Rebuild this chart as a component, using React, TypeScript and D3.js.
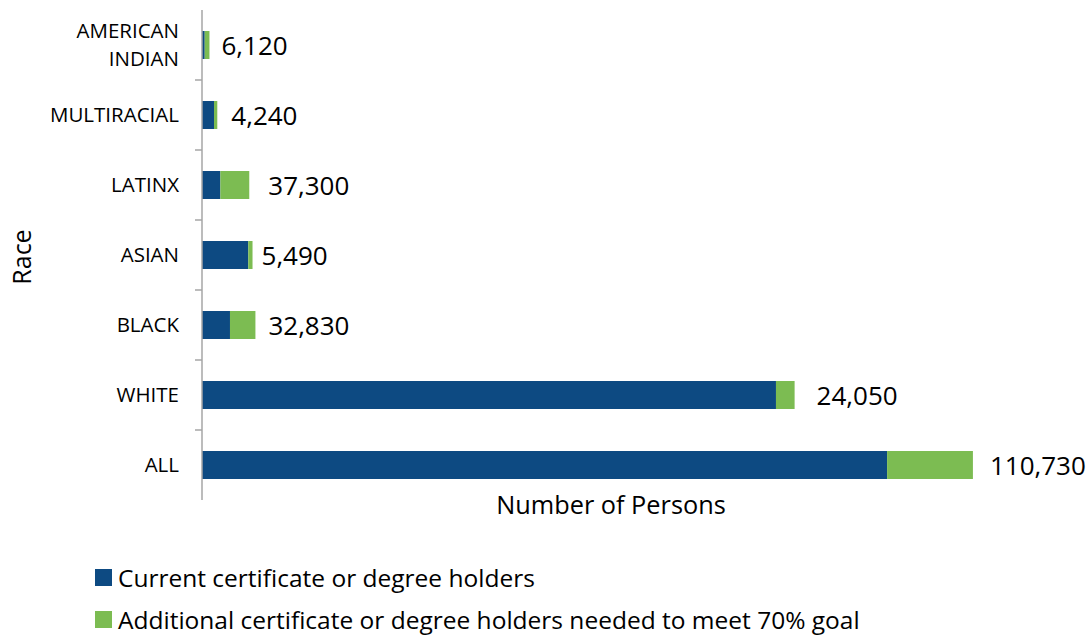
import React from "react";
import * as d3 from "d3";

const categories = ["AMERICAN INDIAN", "MULTIRACIAL", "LATINX", "ASIAN", "BLACK", "WHITE", "ALL"];
const currentHolders = [3500, 15500, 23700, 59700, 36100, 740600, 884000];
const additionalNeeded = [6120, 4240, 37300, 5490, 32830, 24050, 110730];
const seriesNames = [
  "Current certificate or degree holders",
  "Additional certificate or degree holders needed to meet 70% goal",
];
const labelGap = [12, 14, 19, 9, 13, 22, 17];

const W = 1091;
const H = 635;
const BLUE = "#0D4A82";
const GREEN = "#7CBC52";
const FONT = "'Open Sans', 'Noto Sans', sans-serif";

export default function App() {
  const x = d3.scaleLinear().domain([0, 1000000]).range([202, 977]);
  const y = d3.scaleBand<string>().domain(categories).range([10, 500]).paddingInner(0.6).paddingOuter(0.3);
  const fmt = d3.format(",");
  const step = y.step();
  const boundaries = categories.slice(1).map((c) => (y(c) as number) - y.paddingInner() * step / 2);

  return (
    <svg width={W} height={H} style={{ position: "absolute", left: 0, top: 0, background: "#fff" }} fontFamily={FONT}>
      {categories.map((c, i) => {
        const y0 = y(c) as number;
        const bw = y.bandwidth();
        const xb = x(currentHolders[i]);
        const xg = x(currentHolders[i] + additionalNeeded[i]);
        const cy = y0 + bw / 2;
        const words = c === "AMERICAN INDIAN" ? ["AMERICAN", "INDIAN"] : [c];
        return (
          <g key={c}>
            <rect x={x(0)} y={y0} width={xb - x(0)} height={bw} fill={BLUE} />
            <rect x={xb} y={y0} width={xg - xb} height={bw} fill={GREEN} />
            <text x={xg + labelGap[i]} y={cy + 1} dy="0.36em" fontSize={26} fill="#000">
              {fmt(additionalNeeded[i])}
            </text>
            {words.map((w, k) => (
              <text
                key={w}
                x={179}
                y={cy + (k - (words.length - 1) / 2) * 28}
                dy="0.36em"
                textAnchor="end"
                fontSize={20.5}
                fill="#000"
              >
                {w}
              </text>
            ))}
          </g>
        );
      })}
      <line x1={202} x2={202} y1={10} y2={500} stroke="#A6A6A6" strokeWidth={1.5} />
      {boundaries.map((b, i) => (
        <line key={i} x1={195} x2={202} y1={b} y2={b} stroke="#A6A6A6" strokeWidth={1.5} />
      ))}
      <text x={611} y={505} dy="0.36em" textAnchor="middle" fontSize={25.3} fill="#000">
        Number of Persons
      </text>
      <text transform="translate(22,257) rotate(-90)" textAnchor="middle" dy="0.36em" fontSize={25} fill="#000">
        Race
      </text>
      {seriesNames.map((s, i) => (
        <g key={s}>
          <rect x={95} y={569 + i * 42} width={17} height={17} fill={i === 0 ? BLUE : GREEN} />
          <text x={118} y={578 + i * 42} dy="0.36em" fontSize={24.5} fill="#000">
            {s}
          </text>
        </g>
      ))}
    </svg>
  );
}
